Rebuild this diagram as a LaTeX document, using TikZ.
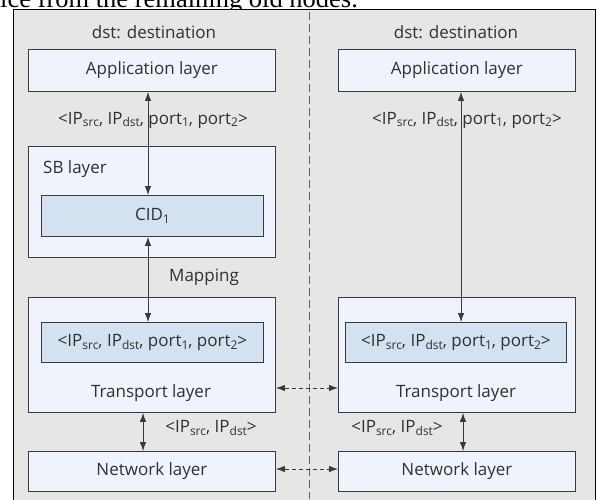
\documentclass[tikz,border=0pt]{standalone}
\usepackage{fontspec}
\setmainfont{Open Sans}
\newfontfamily\serifcut{Liberation Serif}
\usetikzlibrary{arrows.meta}
\definecolor{bggray}{HTML}{E6E6E6}
\definecolor{boxfill}{HTML}{EFF3FB}
\definecolor{innerfill}{HTML}{D4E1F1}
\definecolor{edgecol}{HTML}{3A3A3A}
\definecolor{txtcol}{HTML}{303030}
\newcommand{\mysub}[1]{\raisebox{-0.32ex}{\fontsize{12}{12}\selectfont #1}}
\tikzset{
  layerbox/.style={draw=edgecol,fill=boxfill,line width=0.9pt},
  innerbox/.style={draw=edgecol,fill=innerfill,line width=0.9pt},
  lbl/.style={text=txtcol,font=\fontsize{17}{19}\selectfont,inner sep=0pt},
  conn/.style={draw=edgecol,line width=0.8pt,{Latex[length=9pt,width=6.5pt]}-{Latex[length=9pt,width=6.5pt]}},
  dconn/.style={draw=edgecol,line width=0.8pt,dash pattern=on 4pt off 3pt,{Latex[length=9pt,width=6.5pt]}-{Latex[length=9pt,width=6.5pt]}}
}
\begin{document}
\begin{tikzpicture}[x=1pt,y=-1pt]
\useasboundingbox (0,0) rectangle (597,499);
% cut text at top
\begin{scope}
\clip (0,0) rectangle (597,9);
\node[anchor=base west,inner sep=0pt,font=\serifcut\fontsize{26.5}{30}\selectfont] (cut) at (0,7) {ice from the remaining old nodes.};
\end{scope}
% frame
\fill[bggray] (13,9) rectangle (595,505);
\draw[black,line width=0.9pt] (13,505) -- (13,9) -- (595,9) -- (595,505);
% separator
\draw[edgecol!80,line width=0.9pt,dash pattern=on 8pt off 4pt] (309,12) -- (309,499);

% left column
\node[lbl] (dstL) at (154,32) {dst: destination};
\node[layerbox,minimum width=247pt,minimum height=42pt,anchor=north west] (appL) at (28,49) {};
\node[lbl] at (appL.center) {Application layer};
\node[layerbox,minimum width=247pt,minimum height=111pt,anchor=north west] (sbL) at (28,146) {};
\node[lbl,anchor=west] (sbtxt) at (43,169) {SB layer};
\node[innerbox,minimum width=222pt,minimum height=41pt,anchor=north west] (cidL) at (41,195) {};
\node[lbl] at (cidL.center) {CID\mysub{1}};
\node[layerbox,minimum width=247pt,minimum height=115pt,anchor=north west] (trL) at (28,297) {};
\node[innerbox,minimum width=222pt,minimum height=40pt,anchor=north west] (tupL) at (41,322) {};
\node[lbl] at (tupL.center) {<IP\mysub{src}, IP\mysub{dst}, port\mysub{1}, port\mysub{2}>};
\node[lbl] (trtxtL) at (151,393) {Transport layer};
\node[layerbox,minimum width=247pt,minimum height=40pt,anchor=north west] (netL) at (28,451) {};
\node[lbl] at (netL.center) {Network layer};

% right column
\node[lbl] (dstR) at (456,32) {dst: destination};
\node[layerbox,minimum width=237pt,minimum height=42pt,anchor=north west] (appR) at (338,49) {};
\node[lbl] at (appR.center) {Application layer};
\node[layerbox,minimum width=237pt,minimum height=115pt,anchor=north west] (trR) at (338,297) {};
\node[innerbox,minimum width=221pt,minimum height=40pt,anchor=north west] (tupR) at (345,322) {};
\node[lbl] at (tupR.center) {<IP\mysub{src}, IP\mysub{dst}, port\mysub{1}, port\mysub{2}>};
\node[lbl] (trtxtR) at (456,393) {Transport layer};
\node[layerbox,minimum width=237pt,minimum height=40pt,anchor=north west] (netR) at (338,451) {};
\node[lbl] at (netR.center) {Network layer};

% labels
\node[lbl] (tupLabL) at (153,120) {<IP\mysub{src}, IP\mysub{dst}, port\mysub{1}, port\mysub{2}>};
\node[lbl] (tupLabR) at (467,120) {<IP\mysub{src}, IP\mysub{dst}, port\mysub{1}, port\mysub{2}>};
\node[lbl] (mapL) at (204,277) {Mapping};
\node[lbl] (ipL) at (211,428) {<IP\mysub{src}, IP\mysub{dst}>};
\node[lbl] (ipR) at (397,428) {<IP\mysub{src}, IP\mysub{dst}>};

% connectors
\draw[conn] (appL.south -| 148,0) -- (cidL.north -| 148,0);
\draw[conn] (cidL.south -| 148,0) -- (tupL.north -| 148,0);
\draw[conn] (appR.south -| 461,0) -- (tupR.north -| 461,0);
\draw[conn] (trL.south -| 143,0) -- (netL.north -| 143,0);
\draw[conn] (trR.south -| 463,0) -- (netR.north -| 463,0);
\draw[dconn] (trL.east |- 0,388) -- (trR.west |- 0,388);
\draw[dconn] (netL.east |- 0,469) -- (netR.west |- 0,469);
\end{tikzpicture}
\end{document}
